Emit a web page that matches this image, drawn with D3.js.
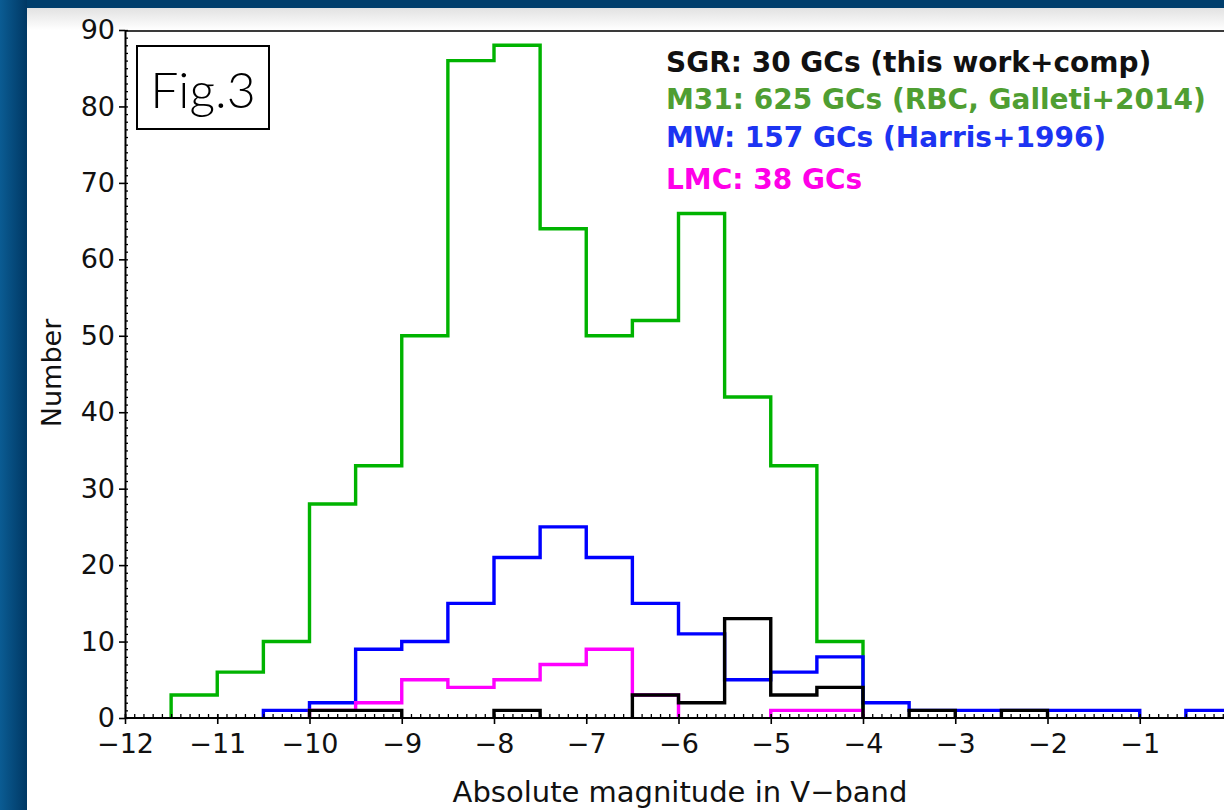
<!DOCTYPE html>
<html>
<head>
<meta charset="utf-8">
<script src="https://cdn.jsdelivr.net/npm/d3@7"></script>
<style>
  html, body { margin: 0; padding: 0; background: #fff; overflow: hidden; }
  svg { display: block; }
</style>
</head>
<body>
<svg id="chart" width="1224" height="810"></svg>
<script>
// ---------- data ----------
const binLow = [-12, -11.5, -11, -10.5, -10, -9.5, -9, -8.5, -8, -7.5, -7, -6.5,
                -6, -5.5, -5, -4.5, -4, -3.5, -3, -2.5, -2, -1.5, -1, -0.5];
const binWidth = 0.5;
const m31 = [0, 3, 6, 10, 28, 33, 50, 86, 88, 64, 50, 52, 66, 42, 33, 10, 0, 0, 0, 0, 0, 0, 0, 0];
const mw  = [0, 0, 0, 1, 2, 9, 10, 15, 21, 25, 21, 15, 11, 5, 6, 8, 2, 1, 1, 1, 1, 1, 0, 1];
const lmc = [0, 0, 0, 0, 1, 2, 5, 4, 5, 7, 9, 3, 0, 0, 1, 1, 0, 0, 0, 0, 0, 0, 0, 0];
const sgr = [0, 0, 0, 0, 1, 1, 0, 0, 1, 0, 0, 3, 2, 13, 3, 4, 0, 1, 0, 1, 0, 0, 0, 0];
const xTicks = [-12, -11, -10, -9, -8, -7, -6, -5, -4, -3, -2, -1, 0];
const yTicks = [0, 10, 20, 30, 40, 50, 60, 70, 80, 90];
const legendLabels = ["SGR: 30 GCs (this work+comp)", "M31: 625 GCs (RBC, Galleti+2014)",
                      "MW: 157 GCs (Harris+1996)", "LMC: 38 GCs"];
const legendColors = ["#111111", "#4f9e32", "#1c34f2", "#ff00e8"];
const seriesList = [
  {values: m31, color: "#00b300"},
  {values: mw,  color: "#0000ff"},
  {values: lmc, color: "#ff00ff"},
  {values: sgr, color: "#000000"}
];
const xLabel = "Absolute magnitude in V\u2212band";
const yLabel = "Number";
const figLabel = "Fig.3";

// ---------- setup ----------
const svg = d3.select("#chart");
const W = 1224, H = 810;
const defs = svg.append("defs");
const lg = defs.append("linearGradient").attr("id", "leftBlue").attr("x1", 0).attr("x2", 1).attr("y1", 0).attr("y2", 0);
lg.append("stop").attr("offset", "0%").attr("stop-color", "#0b5c93");
lg.append("stop").attr("offset", "100%").attr("stop-color", "#003864");
const tg = defs.append("linearGradient").attr("id", "topShade").attr("x1", 0).attr("x2", 0).attr("y1", 0).attr("y2", 1);
tg.append("stop").attr("offset", "0%").attr("stop-color", "#e2e2e2");
tg.append("stop").attr("offset", "100%").attr("stop-color", "#ffffff");

// background frame
svg.append("rect").attr("x", 0).attr("y", 0).attr("width", W).attr("height", H).attr("fill", "#ffffff");
svg.append("rect").attr("x", 0).attr("y", 0).attr("width", W).attr("height", 8).attr("fill", "#003e6c");
svg.append("rect").attr("x", 0).attr("y", 0).attr("width", 27).attr("height", H).attr("fill", "url(#leftBlue)");
svg.append("rect").attr("x", 27).attr("y", 8).attr("width", W - 27).attr("height", 22).attr("fill", "url(#topShade)");

// scales
const x = d3.scaleLinear().domain([-12, 0]).range([125, 1232]);
const y = d3.scaleLinear().domain([0, 90]).range([718, 30]);

// top frame line
svg.append("line").attr("x1", x(-12)).attr("x2", W).attr("y1", y(90) + 1).attr("y2", y(90) + 1)
  .attr("stroke", "#3a3a3a").attr("stroke-width", 2);

// histograms
function stepPath(values) {
  let d = "";
  let i = 0;
  while (i < values.length) {
    if (values[i] > 0) {
      const start = i;
      d += `M${x(binLow[start])},${y(0)}`;
      while (i < values.length && values[i] > 0) {
        d += `L${x(binLow[i])},${y(values[i])}L${x(binLow[i] + binWidth)},${y(values[i])}`;
        i++;
      }
      d += `L${x(binLow[i - 1] + binWidth)},${y(0)}`;
    } else {
      i++;
    }
  }
  return d;
}
svg.append("g").selectAll("path").data(seriesList).join("path")
  .attr("d", s => stepPath(s.values))
  .attr("fill", "none")
  .attr("stroke", s => s.color)
  .attr("stroke-width", 3.4)
  .attr("stroke-linejoin", "miter");

// axes
const fontTick = "'DejaVu Sans', Verdana, sans-serif";
// x minor ticks (inward)
const xMinor = [];
for (let v = -120; v <= 0; v++) xMinor.push(v / 10);
svg.append("g").attr("transform", `translate(0,${y(0)})`)
  .call(d3.axisTop(x).tickValues(xMinor).tickSize(4).tickFormat(""))
  .call(g => g.select(".domain").remove())
  .call(g => g.selectAll("line").attr("stroke", "#000").attr("stroke-width", 1.3));
// x major
const xAxis = svg.append("g").attr("transform", `translate(0,${y(0)})`)
  .call(d3.axisBottom(x).tickValues(xTicks).tickSizeInner(6).tickSizeOuter(0).tickPadding(10));
xAxis.select(".domain").attr("stroke", "#000").attr("stroke-width", 2)
  .attr("d", `M${x(-12)},0H${W}`);
xAxis.selectAll(".tick line").attr("stroke", "#000").attr("stroke-width", 1.6).attr("y1", -4);
xAxis.selectAll("text").attr("font-family", fontTick).attr("font-size", 27).attr("fill", "#111");

// y minor ticks (inward)
const yMinor = [];
for (let v = 0; v <= 90; v++) yMinor.push(v);
svg.append("g").attr("transform", `translate(${x(-12)},0)`)
  .call(d3.axisRight(y).tickValues(yMinor).tickSize(3).tickFormat(""))
  .call(g => g.select(".domain").remove())
  .call(g => g.selectAll("line").attr("stroke", "#000").attr("stroke-width", 1.3));
const yAxis = svg.append("g").attr("transform", `translate(${x(-12)},0)`)
  .call(d3.axisLeft(y).tickValues(yTicks).tickSizeInner(6).tickSizeOuter(0).tickPadding(4));
yAxis.select(".domain").attr("stroke", "#000").attr("stroke-width", 2);
yAxis.selectAll(".tick line").attr("stroke", "#000").attr("stroke-width", 1.6);
yAxis.selectAll("text").attr("font-family", fontTick).attr("font-size", 27).attr("fill", "#111");

// axis titles
svg.append("text").attr("x", 680).attr("y", 802).attr("text-anchor", "middle")
  .attr("font-family", fontTick).attr("font-size", 29).attr("fill", "#111").text(xLabel);
svg.append("text").attr("transform", `translate(61,373) rotate(-90)`).attr("text-anchor", "middle")
  .attr("font-family", fontTick).attr("font-size", 27).attr("fill", "#111").text(yLabel);

// Fig label box
svg.append("rect").attr("x", 137).attr("y", 46).attr("width", 132).attr("height", 83)
  .attr("fill", "#fff").attr("stroke", "#000").attr("stroke-width", 2);
svg.append("text").attr("x", 203).attr("y", 108).attr("text-anchor", "middle")
  .attr("font-family", "Lato, 'Open Sans', sans-serif").attr("font-weight", 300)
  .attr("font-size", 50).attr("fill", "#000").text(figLabel);

// legend
const legendY = [72, 109, 147, 189];
svg.append("g").selectAll("text").data(legendLabels).join("text")
  .attr("x", 666).attr("y", (d, i) => legendY[i])
  .attr("font-family", fontTick).attr("font-weight", "bold").attr("font-size", 28)
  .attr("fill", (d, i) => legendColors[i]).text(d => d);
</script>
</body>
</html>
